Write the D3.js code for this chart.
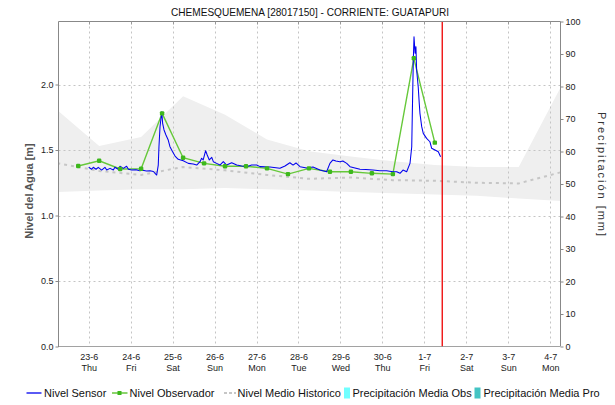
<!DOCTYPE html>
<html>
<head>
<meta charset="utf-8">
<script src="https://cdn.jsdelivr.net/npm/d3@7"></script>
<style>
  html, body { margin: 0; padding: 0; background: #fff; }
  svg { display: block; font-family: "Liberation Sans", Arial, sans-serif; }
</style>
</head>
<body>
<svg id="chart" width="615" height="405"></svg>
<script>
// ---- data -------------------------------------------------------------
const title = "CHEMESQUEMENA [28017150] - CORRIENTE: GUATAPURI";
const leftAxisTitle = "Nivel del Agua [m]";
const rightAxisTitle = "Precipitación [mm]";

// day ticks (midnight of each day, 2016)
const dayLabels = ["23-6", "24-6", "25-6", "26-6", "27-6", "28-6", "29-6", "30-6", "1-7", "2-7", "3-7", "4-7"];
const weekdayLabels = ["Thu", "Fri", "Sat", "Sun", "Mon", "Tue", "Wed", "Thu", "Fri", "Sat", "Sun", "Mon"];
const levelTicks = [0, 0.5, 1.0, 1.5, 2.0];
const precipTicks = [0, 10, 20, 30, 40, 50, 60, 70, 80, 90, 100];

// sensor readings: hours after 23-6 00:00, level in metres
const sensorHours = [0, 1.7, 2.6, 4.2, 5.5, 7.4, 9.3, 10.3, 12.2, 14.1, 15.0, 16.9, 17.9, 19.8, 21.7, 22.7,
  24.6, 27.0, 29.3, 31.0, 33.0, 35.1, 37.0, 38.9, 39.8, 40.2, 40.8, 41.8, 42.3, 43.1, 44.2, 45.5,
  46.5, 48.0, 49.4, 51.2, 54.1, 57.0, 59.8, 61.8, 63.7, 64.6, 65.5, 66.9, 67.8, 69.0, 70.4, 71.3,
  73.2, 75.1, 77.0, 78.9, 81.8, 84.7, 87.5, 90.4, 93.2, 96.1, 98.0, 103.7, 109.4, 112.3, 115.1,
  116.9, 118.6, 120.9, 124.7, 128.3, 132.3, 136.1, 138.0, 139.7, 141.4, 143.7, 145.4, 147.6, 149.5,
  152.3, 155.2, 158.6, 162.6, 166.6, 170.4, 174.0, 176.2, 178.1, 179.8, 181.9, 183.8, 184.8, 185.1,
  185.7, 186.1, 186.7, 187.2, 187.6, 188.5, 189.1, 189.5, 190.5, 191.4, 193.3, 195.2, 196.2, 198.1,
  200.0, 201.3];
const sensorLevel = [1.368, 1.353, 1.368, 1.353, 1.368, 1.347, 1.368, 1.347, 1.360, 1.347, 1.368, 1.353, 1.376, 1.360, 1.376, 1.353,
  1.347, 1.350, 1.342, 1.345, 1.340, 1.342, 1.336, 1.309, 1.385, 1.525, 1.678, 1.792, 1.704, 1.653, 1.615, 1.576,
  1.525, 1.487, 1.454, 1.429, 1.418, 1.398, 1.393, 1.385, 1.411, 1.437, 1.424, 1.495, 1.462, 1.424, 1.444, 1.411,
  1.398, 1.385, 1.411, 1.385, 1.403, 1.385, 1.378, 1.373, 1.385, 1.385, 1.373, 1.370, 1.360, 1.378, 1.403,
  1.385, 1.401, 1.373, 1.363, 1.370, 1.347, 1.334, 1.398, 1.424, 1.416, 1.411, 1.416, 1.398, 1.373,
  1.363, 1.353, 1.351, 1.347, 1.342, 1.342, 1.334, 1.334, 1.322, 1.347, 1.334, 1.398, 1.525, 1.754,
  2.187, 2.365, 2.238, 2.289, 2.111, 1.983, 1.856, 1.780, 1.678, 1.627, 1.589, 1.563, 1.513, 1.500,
  1.487, 1.449];

// manual observations (06:00 and 18:00)
const observerHours = [-6, 6, 18, 30, 42, 54, 66, 78, 90, 102, 114, 126, 138, 150, 162, 174, 186, 198];
const observerLevel = [1.378, 1.418, 1.355, 1.357, 1.780, 1.441, 1.398, 1.376, 1.376, 1.360, 1.316, 1.360,
  1.334, 1.334, 1.322, 1.316, 2.200, 1.556];

// historical statistics, one value per day at 06:00 (22-6 .. 4-7)
const histHours = [-18, 6, 30, 54, 78, 102, 126, 150, 174, 198, 222, 246, 270];
const histMax  = [1.805, 1.53, 1.60, 1.91, 1.77, 1.58, 1.49, 1.45, 1.415, 1.385, 1.37, 1.37, 1.98];
const histMin  = [1.18, 1.19, 1.20, 1.20, 1.21, 1.20, 1.19, 1.18, 1.17, 1.16, 1.15, 1.13, 1.11];
const histMean = [1.40, 1.34, 1.31, 1.37, 1.345, 1.31, 1.28, 1.29, 1.27, 1.265, 1.25, 1.245, 1.33];

// time of the current report
const nowHour = 202.25;

// ---- layout -------------------------------------------------------------
const svg = d3.select("#chart");
const L = 58.5, R = 560.5, T = 21.5, B = 346.5;
const base = new Date(2016, 5, 23, 0, 0);
const hd = h => new Date(base.getTime() + h * 3600e3);

const x = d3.scaleTime().domain([hd(-17.27), hd(269.9)]).range([L, R]);
const yL = d3.scaleLinear().domain([0, 2.481]).range([B, T]);
const yR = d3.scaleLinear().domain([0, 100]).range([B, T]);

const dayDates = dayLabels.map((d, i) => hd(24 * i));

svg.append("defs").append("clipPath").attr("id", "plot")
  .append("rect").attr("x", L).attr("y", T).attr("width", R - L).attr("height", B - T);

const plot = svg.append("g").attr("clip-path", "url(#plot)");

// historical range band
const hist = histHours.map((h, i) => ({ t: hd(h), lo: histMin[i], hi: histMax[i], m: histMean[i] }));
plot.append("path").datum(hist)
  .attr("fill", "#efefef")
  .attr("d", d3.area().x(d => x(d.t)).y0(d => yL(d.lo)).y1(d => yL(d.hi)));

// grid
plot.append("g").selectAll("line").data(dayDates).join("line")
  .attr("x1", d => Math.round(x(d)) + 0.5).attr("x2", d => Math.round(x(d)) + 0.5)
  .attr("y1", T).attr("y2", B)
  .attr("stroke", "#c4c4c4").attr("stroke-dasharray", "2,3");
plot.append("g").selectAll("line").data(levelTicks.filter(v => v > 0)).join("line")
  .attr("x1", L).attr("x2", R)
  .attr("y1", d => Math.round(yL(d)) + 0.5).attr("y2", d => Math.round(yL(d)) + 0.5)
  .attr("stroke", "#c4c4c4").attr("stroke-dasharray", "2,3");

// historical mean
plot.append("path").datum(hist)
  .attr("fill", "none").attr("stroke", "#c6c6c6").attr("stroke-width", 2)
  .attr("stroke-dasharray", "3,4")
  .attr("d", d3.line().x(d => x(d.t)).y(d => yL(d.m)));

// observer series
const obs = observerHours.map((h, i) => ({ t: hd(h), v: observerLevel[i] }));
plot.append("path").datum(obs)
  .attr("fill", "none").attr("stroke", "#66c83a").attr("stroke-width", 1.4)
  .attr("d", d3.line().x(d => x(d.t)).y(d => yL(d.v)));

// sensor series
const sen = sensorHours.map((h, i) => ({ t: hd(h), v: sensorLevel[i] }));
plot.append("path").datum(sen)
  .attr("fill", "none").attr("stroke", "#0000ee").attr("stroke-width", 1.05)
  .attr("stroke-linejoin", "round")
  .attr("d", d3.line().x(d => x(d.t)).y(d => yL(d.v)));

// observer markers
plot.append("g").selectAll("rect").data(obs).join("rect")
  .attr("x", d => x(d.t) - 2.2).attr("y", d => yL(d.v) - 2.2)
  .attr("width", 4.4).attr("height", 4.4).attr("rx", 1.2)
  .attr("fill", "#3db81c");

// current time marker
plot.append("line")
  .attr("x1", x(hd(nowHour))).attr("x2", x(hd(nowHour)))
  .attr("y1", T).attr("y2", B)
  .attr("stroke", "#ee0000").attr("stroke-width", 1.3);

// ---- axes -----------------------------------------------------------------
const frame = svg.append("g").attr("stroke", "#888").attr("fill", "none");
frame.append("line").attr("x1", L).attr("x2", R).attr("y1", T).attr("y2", T);
frame.append("line").attr("x1", L).attr("x2", L).attr("y1", T).attr("y2", B);
frame.append("line").attr("x1", R).attr("x2", R).attr("y1", T).attr("y2", B);
svg.append("line").attr("x1", L).attr("x2", R).attr("y1", B).attr("y2", B)
  .attr("stroke", "#444").attr("stroke-dasharray", "1,1");

// small marks on the top border at each day
svg.append("g").selectAll("line").data(dayDates).join("line")
  .attr("x1", d => Math.round(x(d)) + 0.5).attr("x2", d => Math.round(x(d)) + 0.5)
  .attr("y1", T).attr("y2", T + 3).attr("stroke", "#999");

// bottom day labels (two lines)
const xa = svg.append("g").attr("font-size", 9).attr("fill", "#222").attr("text-anchor", "middle");
xa.selectAll("text.d").data(dayDates).join("text").attr("class", "d")
  .attr("x", d => x(d) + 0.5).attr("y", 359.5).text((d, i) => dayLabels[i]);
xa.selectAll("text.w").data(dayDates).join("text").attr("class", "w")
  .attr("x", d => x(d) + 0.5).attr("y", 371).text((d, i) => weekdayLabels[i]);

// left axis
const la = svg.append("g").attr("transform", `translate(${L},0)`)
  .call(d3.axisLeft(yL).tickValues(levelTicks).tickFormat(d3.format(".1f")).tickSize(3).tickPadding(2));
la.select(".domain").remove();
la.selectAll("line").attr("stroke", "#888");
la.selectAll("text").attr("font-size", 9).attr("fill", "#222").attr("font-family", null);

// right axis
const ra = svg.append("g").attr("transform", `translate(${R},0)`)
  .call(d3.axisRight(yR).tickValues(precipTicks).tickSize(3).tickPadding(2));
ra.select(".domain").remove();
ra.selectAll("line").attr("stroke", "#888");
ra.selectAll("text").attr("font-size", 9).attr("fill", "#222").attr("font-family", null);

// axis titles
svg.append("text")
  .attr("transform", "translate(33,191) rotate(-90)")
  .attr("text-anchor", "middle").attr("font-size", 11).attr("font-weight", "bold").attr("fill", "#555")
  .text(leftAxisTitle);
svg.append("text")
  .attr("transform", "translate(598,174) rotate(90)")
  .attr("text-anchor", "middle").attr("font-size", 11).attr("fill", "#333")
  .attr("textLength", 124).attr("lengthAdjust", "spacing")
  .text(rightAxisTitle);

// title
svg.append("text")
  .attr("x", 310).attr("y", 15.5).attr("text-anchor", "middle")
  .attr("font-size", 11).attr("fill", "#111")
  .attr("textLength", 278).attr("lengthAdjust", "spacingAndGlyphs")
  .text(title);

// ---- legend -----------------------------------------------------------------
const lg = svg.append("g").attr("font-size", 11).attr("fill", "#111");
const ly = 393, lty = 397;
lg.append("line").attr("x1", 26.5).attr("x2", 41.5).attr("y1", ly).attr("y2", ly)
  .attr("stroke", "#0000ee").attr("stroke-width", 1.3);
lg.append("text").attr("x", 44).attr("y", lty).text("Nivel Sensor");
lg.append("line").attr("x1", 112).attr("x2", 127.5).attr("y1", ly).attr("y2", ly)
  .attr("stroke", "#5cc22e").attr("stroke-width", 1.4);
lg.append("rect").attr("x", 117.5).attr("y", ly - 2).attr("width", 4).attr("height", 4).attr("fill", "#3db81c");
lg.append("text").attr("x", 129.5).attr("y", lty).text("Nivel Observador");
lg.append("line").attr("x1", 224).attr("x2", 236).attr("y1", ly).attr("y2", ly)
  .attr("stroke", "#c6c6c6").attr("stroke-width", 2).attr("stroke-dasharray", "3,2");
lg.append("text").attr("x", 237.5).attr("y", lty).text("Nivel Medio Historico");
lg.append("rect").attr("x", 344).attr("y", 387.5).attr("width", 6).attr("height", 11).attr("fill", "#70ffff");
lg.append("text").attr("x", 352.5).attr("y", lty).text("Precipitación Media Obs");
lg.append("rect").attr("x", 474.5).attr("y", 387.5).attr("width", 6).attr("height", 11).attr("fill", "#44c4c4");
lg.append("text").attr("x", 483.5).attr("y", lty).text("Precipitación Media Pro");
</script>
</body>
</html>
